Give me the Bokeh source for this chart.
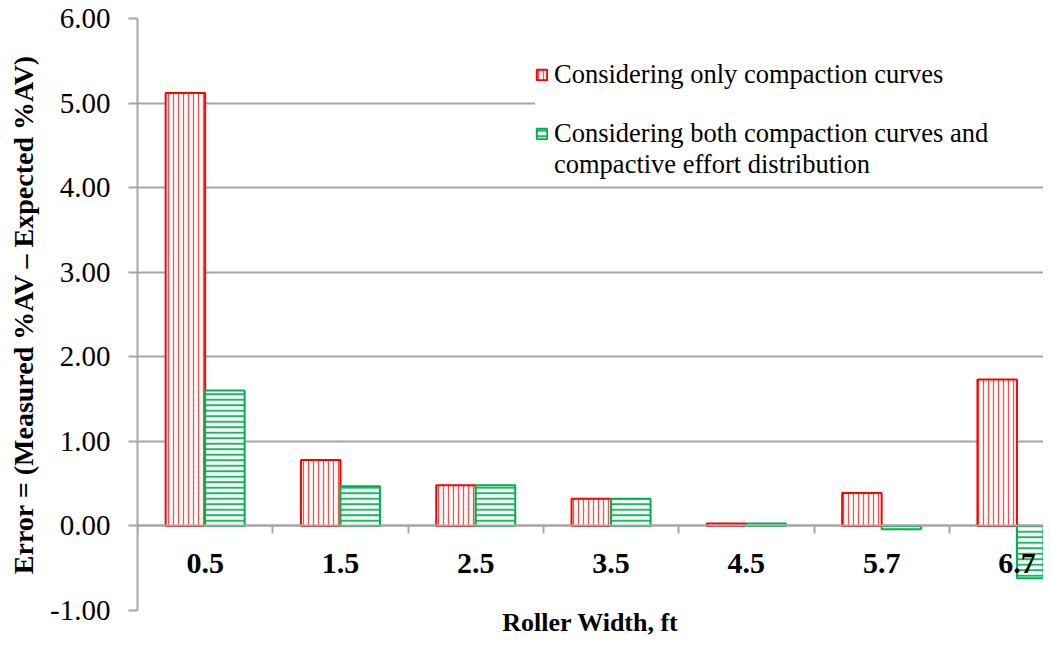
from bokeh.plotting import figure
from bokeh.models import (ColumnDataSource, Range1d, FixedTicker, LinearAxis,
                          Legend, LegendItem, NumeralTickFormatter)
from bokeh.transform import dodge
from bokeh.embed import file_html
from bokeh.resources import INLINE

# ---------------- data ----------------
roller_width_labels = ["0.5", "1.5", "2.5", "3.5", "4.5", "5.7", "6.7"]
only_compaction_curves = [5.12, 0.78, 0.48, 0.32, 0.03, 0.39, 1.73]
curves_and_effort = [1.60, 0.47, 0.48, 0.32, 0.03, -0.04, -0.62]
legend_lines = ["Considering only compaction curves",
                "Considering both compaction curves and",
                "compactive effort distribution"]
y_ticks = [-1, 0, 1, 2, 3, 4, 5, 6]
x_title = "Roller Width, ft"
y_title = "Error = (Measured %AV \u2013 Expected %AV)"

# ---------------- style ----------------
SERIF = "Liberation Serif"
GRID = "#A6A6A6"
RED = "#FF0000"
GREEN = "#00B050"
W, H = 1043, 639
LEFT = 137
CAT_PX = 135.3
BW = 0.292

xs = list(range(len(roller_width_labels)))
source = ColumnDataSource(dict(x=xs, a=only_compaction_curves, b=curves_and_effort))

p = figure(width=W, height=H, output_backend="svg", toolbar_location=None,
           x_range=Range1d(-0.5, -0.5 + (W - LEFT) / CAT_PX),
           y_range=Range1d(-1, 6),
           min_border_left=LEFT, min_border_right=0,
           min_border_top=18, min_border_bottom=0)
p.outline_line_color = None
p.background_fill_color = "white"
p.border_fill_color = "white"
p.xgrid.visible = False
p.ygrid.ticker = FixedTicker(ticks=y_ticks)
p.ygrid.grid_line_color = GRID
p.ygrid.grid_line_width = 2

r1 = p.vbar(x=dodge("x", -BW / 2, range=p.x_range), top="a", bottom=0, width=BW,
            source=source, fill_color="white", line_color=RED, line_width=2,
            hatch_pattern="vertical_line", hatch_color=RED, hatch_scale=5,
            hatch_weight=1.3, hatch_alpha=0.7)
r2 = p.vbar(x=dodge("x", BW / 2, range=p.x_range), top="b", bottom=0, width=BW,
            source=source, fill_color="white", line_color=GREEN, line_width=2,
            hatch_pattern="horizontal_line", hatch_color=GREEN, hatch_scale=5.5,
            hatch_weight=2, hatch_alpha=0.9)
dummy = p.vbar(x=[], top=[], width=0.1, fill_alpha=0, line_alpha=0)

# y axis
yax = p.yaxis[0]
yax.ticker = FixedTicker(ticks=y_ticks)
yax.formatter = NumeralTickFormatter(format="0.00")
yax.axis_line_color = GRID
yax.axis_line_width = 2
yax.major_tick_line_color = GRID
yax.major_tick_line_width = 2
yax.major_tick_out = 9
yax.major_tick_in = 0
yax.minor_tick_line_color = None
yax.major_label_text_font = SERIF
yax.major_label_text_font_size = "29px"
yax.major_label_text_color = "black"
yax.major_label_standoff = 18
yax.axis_label = y_title
yax.axis_label_text_font = SERIF
yax.axis_label_text_font_style = "bold"
yax.axis_label_text_font_size = "28px"
yax.axis_label_text_color = "black"
yax.axis_label_standoff = 8

# bottom axis: only the title
xb = p.xaxis[0]
xb.ticker = FixedTicker(ticks=[])
xb.axis_line_color = None
xb.major_tick_line_color = None
xb.minor_tick_line_color = None
xb.major_tick_out = 0
xb.minor_tick_out = 0
xb.major_label_standoff = 0
xb.major_label_text_font_size = "0px"
xb.axis_label = x_title
xb.axis_label_text_font = SERIF
xb.axis_label_text_font_style = "bold"
xb.axis_label_text_font_size = "26px"
xb.axis_label_text_color = "black"
xb.axis_label_standoff = -3

# category axis crossing at y = 0
xf = LinearAxis(fixed_location=0,
                ticker=FixedTicker(ticks=xs, minor_ticks=[i - 0.5 for i in range(len(xs) + 1)]))
xf.major_label_overrides = {i: lab for i, lab in zip(xs, roller_width_labels)}
xf.axis_line_color = GRID
xf.axis_line_width = 2
xf.major_tick_line_color = None
xf.major_tick_out = 0
xf.major_tick_in = 0
xf.minor_tick_line_color = GRID
xf.minor_tick_line_width = 2
xf.minor_tick_out = 8
xf.minor_tick_in = 0
xf.major_label_text_font = SERIF
xf.major_label_text_font_style = "bold"
xf.major_label_text_font_size = "30px"
xf.major_label_text_color = "black"
xf.major_label_standoff = 20
p.add_layout(xf, "below")

legend = Legend(items=[
    LegendItem(label=legend_lines[0], renderers=[r1]),
    LegendItem(label=" ", renderers=[dummy]),
    LegendItem(label=legend_lines[1], renderers=[r2]),
    LegendItem(label=legend_lines[2], renderers=[dummy]),
], location=(398, 430))
legend.label_text_font = SERIF
legend.label_text_font_size = "26.5px"
legend.label_text_color = "black"
legend.label_height = 28
legend.label_width = 560
legend.glyph_height = 13
legend.glyph_width = 13
legend.label_standoff = 6
legend.spacing = 0
legend.padding = 8
legend.margin = 0
legend.border_line_color = None
legend.background_fill_color = "white"
legend.background_fill_alpha = 1
p.add_layout(legend)

open("out.html", "w", encoding="utf-8").write(file_html(p, INLINE))
